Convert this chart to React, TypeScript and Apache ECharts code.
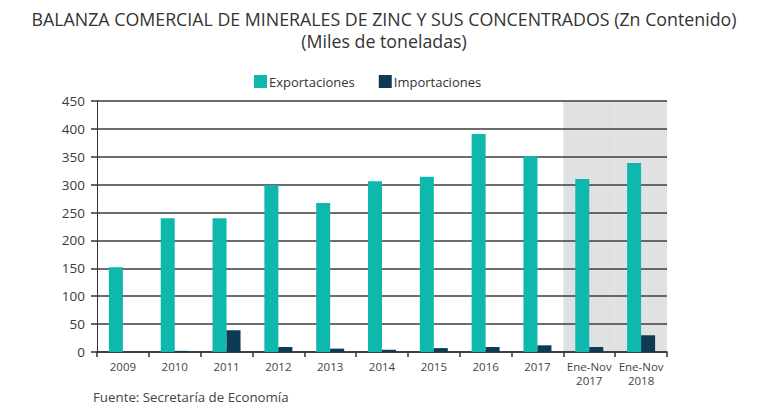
import React, { useEffect, useRef } from "react";
import * as echarts from "echarts";

const categories = [
  "2009", "2010", "2011", "2012", "2013", "2014", "2015", "2016", "2017",
  "Ene-Nov\n2017", "Ene-Nov\n2018",
];
const exportaciones = [152, 240, 240, 299, 267, 306, 314, 391, 351, 310, 339];
const importaciones = [0, 2, 39, 9, 6, 4, 7, 9, 12, 9, 30];
const shaded = [null, null, null, null, null, null, null, null, null, 450, 450];
const yTicks = { min: 0, max: 450, interval: 50 };

const FONT = "'Open Sans', sans-serif";

export default function App() {
  const ref = useRef<HTMLDivElement>(null);
  useEffect(() => {
    if (!ref.current) return;
    const chart = echarts.init(ref.current, null, { renderer: "svg" });
    const titleStyle = {
      fontFamily: FONT,
      fontSize: 17.8,
      fontWeight: "normal",
      color: "#333333",
      lineHeight: 22,
    };
    chart.setOption({
      animation: false,
      backgroundColor: "#ffffff",
      textStyle: { fontFamily: FONT },
      title: [
        {
          text: "BALANZA COMERCIAL DE MINERALES DE ZINC Y SUS CONCENTRADOS (Zn Contenido)",
          left: "center",
          top: 7.5,
          padding: 0,
          textStyle: titleStyle,
        },
        {
          text: "(Miles de toneladas)",
          left: "center",
          top: 29.5,
          padding: 0,
          textStyle: titleStyle,
        },
      ],
      legend: {
        data: ["Exportaciones", "Importaciones"],
        left: 249,
        top: 70,
        itemWidth: 13,
        itemHeight: 13,
        itemGap: 24,
        icon: "rect",
        textStyle: { fontFamily: FONT, fontSize: 13, color: "#333333", padding: [0, 0, 0, -3] },
      },
      grid: { left: 97, right: 101, top: 101, bottom: 68, containLabel: false },
      xAxis: [
        {
          type: "category",
          data: categories,
          axisLine: { show: true, lineStyle: { color: "#333333", width: 1.5 } },
          axisTick: { show: true, length: 5, lineStyle: { color: "#333333", width: 1.5 } },
          axisLabel: {
            fontFamily: FONT,
            fontSize: 11.5,
            color: "#444444",
            lineHeight: 14,
            margin: 7,
            interval: 0,
          },
          z: 3,
        },
        {
          type: "category",
          data: categories,
          show: false,
        },
      ],
      yAxis: {
        type: "value",
        min: yTicks.min,
        max: yTicks.max,
        interval: yTicks.interval,
        axisLine: { show: true, lineStyle: { color: "#333333", width: 1 } },
        axisTick: { show: true, length: 6, lineStyle: { color: "#333333", width: 1.5 } },
        axisLabel: { fontFamily: FONT, fontSize: 13.5, color: "#3a3a3a", margin: 12 },
        splitLine: { show: true, lineStyle: { color: "#3d3d3d", width: 1.6 } },
        z: 3,
      },
      series: [
        {
          name: "shade",
          type: "bar",
          xAxisIndex: 1,
          data: shaded,
          barWidth: "100%",
          barCategoryGap: "0%",
          itemStyle: { color: "#e0e1e3", borderColor: "#e0e1e3", borderWidth: 1 },
          silent: true,
          z: -1,
        },
        {
          name: "Exportaciones",
          type: "bar",
          data: exportaciones,
          barWidth: 14,
          barGap: "0%",
          itemStyle: { color: "#0fb8ad" },
          z: 4,
        },
        {
          name: "Importaciones",
          type: "bar",
          data: importaciones,
          barWidth: 14,
          barGap: "0%",
          itemStyle: { color: "#0d3b55" },
          z: 4,
        },
      ],
      graphic: [
        {
          type: "text",
          left: 93,
          top: 390,
          style: {
            text: "Fuente: Secretaría de Economía",
            fontFamily: FONT,
            fontSize: 13.3,
            fill: "#444444",
          },
        },
      ],
    });
    return () => chart.dispose();
  }, []);
  return (
    <div
      ref={ref}
      style={{ position: "fixed", left: 0, top: 0, width: 768, height: 420 }}
    />
  );
}
